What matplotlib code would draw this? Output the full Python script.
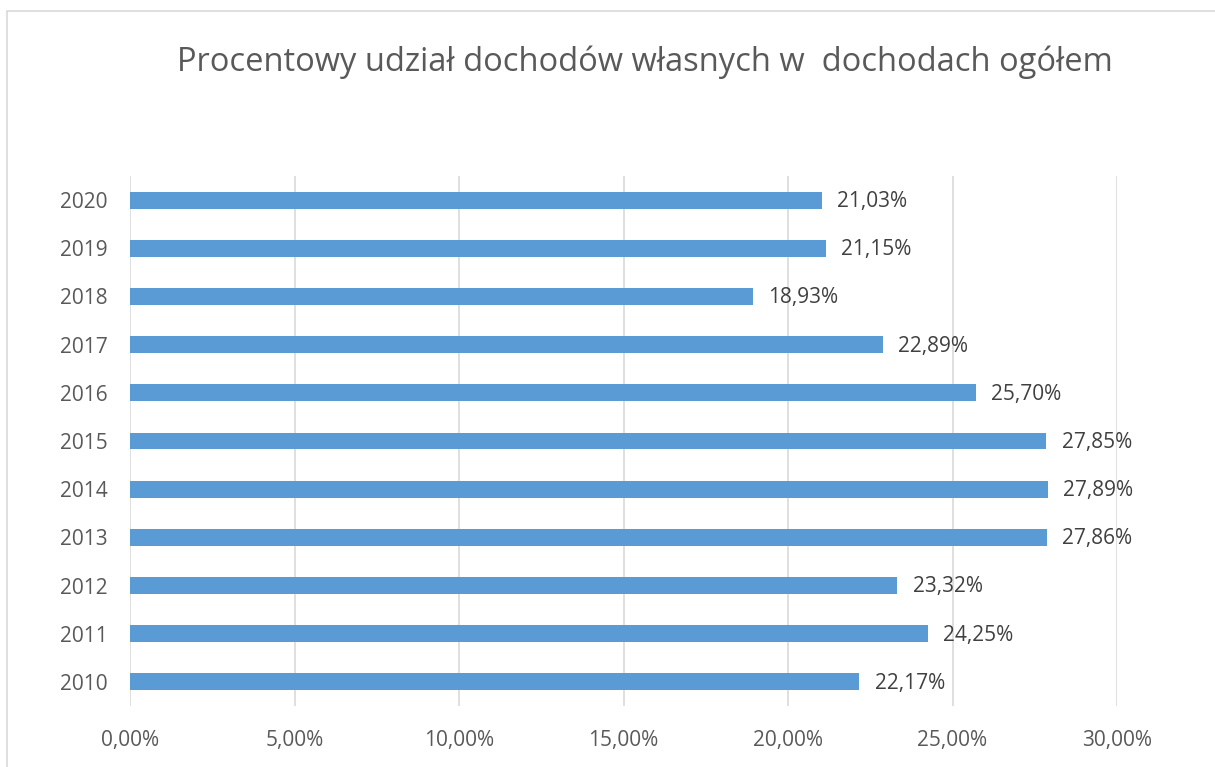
import numpy as np
import matplotlib.pyplot as plt
from matplotlib.patches import Rectangle

years = ['2010', '2011', '2012', '2013', '2014', '2015', '2016', '2017', '2018', '2019', '2020']
values = [22.17, 24.25, 23.32, 27.86, 27.89, 27.85, 25.70, 22.89, 18.93, 21.15, 21.03]
xticks = [0, 5, 10, 15, 20, 25, 30]

plt.rcParams['font.family'] = ['Open Sans', 'DejaVu Sans']

fig = plt.figure(figsize=(12.15, 7.67), dpi=100)
ax = fig.add_axes([130 / 1215, 1 - 706 / 767, (1117 - 130) / 1215, 530 / 767])

# chart border
fig.patches.append(Rectangle((7 / 1215, -0.05), 1.1, 1 - 11 / 767 + 0.05,
                             transform=fig.transFigure, fill=False,
                             edgecolor='#d9d9d9', linewidth=1.2))

y = np.arange(len(years))
ax.barh(y, values, height=0.35, color='#5b9bd5', zorder=3)

for yi, v in zip(y, values):
    ax.annotate(f'{v:.2f}%'.replace('.', ','), (v, yi), xytext=(11, -1),
                textcoords='offset points', va='center', ha='left',
                fontsize=15, color='#404040')

ax.set_xlim(0, 30)
ax.set_ylim(-0.5, len(years) - 0.5)
ax.set_xticks(xticks)
ax.set_xticklabels([f'{t:.2f}%'.replace('.', ',') for t in xticks])
ax.set_yticks(y)
ax.set_yticklabels(years)
ax.tick_params(axis='both', length=0, labelsize=15, labelcolor='#595959')
ax.tick_params(axis='x', pad=17)
ax.tick_params(axis='y', pad=16)
ax.grid(axis='x', color='#d9d9d9', linewidth=1.2, zorder=0)
for s in ax.spines.values():
    s.set_visible(False)

fig.text(645 / 1215, 1 - 62 / 767, 'Procentowy udział dochodów własnych w  dochodach ogółem',
         ha='center', va='center', fontsize=23.5, color='#595959')

plt.savefig('out.png', dpi=100)
